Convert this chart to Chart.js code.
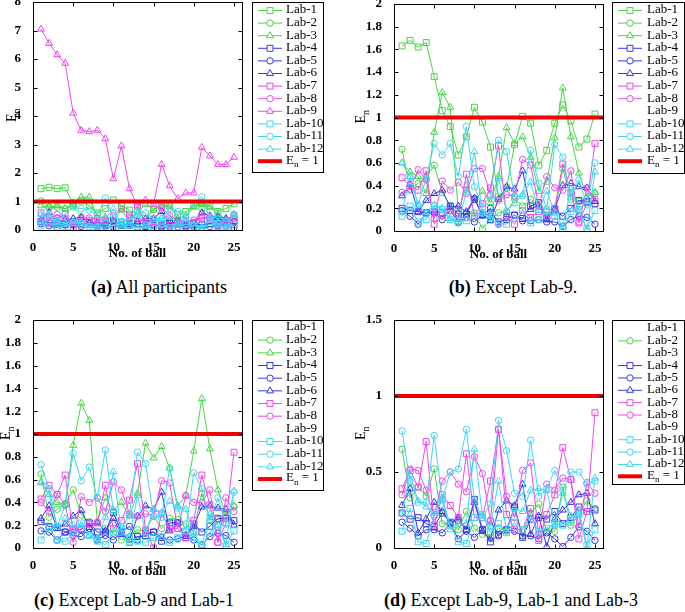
<!DOCTYPE html>
<html>
<head>
<meta charset="utf-8">
<script src="https://cdn.jsdelivr.net/npm/chart.js@4.4.1/dist/chart.umd.min.js"></script>
<style>
  body { margin: 0; background: #fff; width: 685px; height: 612px; position: relative; overflow: hidden;
         font-family: "Liberation Serif", "Times New Roman", serif; }
  canvas { position: absolute; }
  .cap { position: absolute; font-size: 18px; white-space: nowrap; transform: translate(-50%, -50%); color: #000; }
</style>
</head>
<body>
<canvas id="pa" width="342" height="272" style="left:0;top:-10px"></canvas>
<canvas id="pb" width="340" height="272" style="left:345px;top:-10px"></canvas>
<canvas id="pc" width="342" height="280" style="left:0;top:300px"></canvas>
<canvas id="pd" width="340" height="280" style="left:345px;top:300px"></canvas>
<div class="cap" style="left:159px;top:287px"><b>(a)</b> All participants</div>
<div class="cap" style="left:513px;top:287px"><b>(b)</b> Except Lab-9.</div>
<div class="cap" style="left:134px;top:600px"><b>(c)</b> Except Lab-9 and Lab-1</div>
<div class="cap" style="left:511px;top:600px"><b>(d)</b> Except Lab-9, Lab-1 and Lab-3</div>

<script>
// ---- data ----
const balls = [1,2,3,4,5,6,7,8,9,10,11,12,13,14,15,16,17,18,19,20,21,22,23,24,25];
const xTicks = [0,5,10,15,20,25];
const labNames = ['Lab-1','Lab-2','Lab-3','Lab-4','Lab-5','Lab-6','Lab-7','Lab-8','Lab-9','Lab-10','Lab-11','Lab-12'];
const enLimit = 1;

// (a) all participants
const a_lab1  = [1.45,1.50,1.45,1.48,0.92,1.02,0.85,0.60,0.75,1.05,0.85,0.70,0.30,0.40,0.72,0.85,0.85,0.55,0.65,0.85,0.92,0.85,0.65,0.75,0.92];
const a_lab2  = [1.02,0.80,0.80,0.75,0.85,0.45,0.35,0.10,0.25,0.25,0.05,0.15,0.20,0.25,0.40,0.30,0.35,0.30,0.30,0.25,0.75,0.40,0.35,0.35,0.40];
const a_lab3  = [0.85,0.80,0.85,0.75,0.95,1.15,1.15,0.45,0.45,0.35,0.70,0.30,0.60,0.90,0.75,0.80,0.85,0.40,0.50,0.80,0.92,0.80,0.55,0.40,0.50];
const a_lab4  = [0.30,0.25,0.25,0.20,0.22,0.20,0.25,0.18,0.18,0.30,0.18,0.18,0.10,0.12,0.18,0.15,0.25,0.28,0.15,0.22,0.18,0.22,0.30,0.28,0.28];
const a_lab5  = [0.22,0.15,0.08,0.18,0.18,0.12,0.20,0.10,0.14,0.10,0.16,0.22,0.08,0.14,0.16,0.10,0.10,0.12,0.10,0.10,0.06,0.12,0.15,0.14,0.08];
const a_lab6  = [0.35,0.62,0.30,0.35,0.40,0.45,0.25,0.25,0.20,0.30,0.18,0.12,0.30,0.40,0.40,0.65,0.22,0.25,0.15,0.22,0.60,0.50,0.45,0.40,0.30];
const a_lab7  = [0.60,0.45,0.40,0.55,0.10,0.18,0.20,0.15,0.35,0.18,0.28,0.42,0.85,0.18,0.10,0.22,0.15,0.20,0.18,0.25,0.45,0.38,0.10,0.28,0.50];
const a_lab8  = [0.30,0.30,0.55,0.40,0.25,0.40,0.42,0.40,0.30,0.50,0.75,0.55,0.35,0.30,0.30,0.80,0.50,0.35,0.30,0.35,0.40,0.45,0.20,0.35,0.25];
const a_lab9  = [7.05,6.55,6.15,5.85,4.10,3.50,3.45,3.50,3.20,1.80,2.95,1.45,0.85,1.05,0.90,2.30,1.55,1.10,1.30,1.30,2.90,2.60,2.30,2.30,2.55];
const a_lab10 = [0.15,0.25,0.10,0.12,0.25,0.22,0.12,0.10,0.10,0.18,0.18,0.16,0.08,0.08,0.05,0.20,0.08,0.12,0.20,0.15,0.05,0.20,0.22,0.05,0.20];
const a_lab11 = [0.25,0.55,0.30,0.55,0.80,0.75,0.70,0.55,1.12,0.45,0.30,0.35,0.65,0.60,0.40,0.40,0.75,0.65,0.45,0.90,1.17,0.40,0.50,0.30,0.55];
const a_lab12 = [0.55,0.50,0.30,0.25,0.30,0.25,0.15,0.10,0.40,0.75,0.20,0.15,0.50,0.20,0.30,0.40,0.45,0.25,0.40,0.20,0.10,0.40,0.25,0.05,0.55];

// (b) except Lab-9
const b_lab1  = [1.63,1.68,1.62,1.66,1.36,1.06,0.92,0.67,0.83,1.09,0.96,0.74,0.30,0.38,0.76,1.01,0.95,0.58,0.71,0.95,1.11,0.97,0.74,0.81,1.03];
const b_lab2  = [0.72,0.36,0.42,0.47,0.58,0.34,0.22,0.07,0.16,0.16,0.02,0.10,0.16,0.17,0.28,0.22,0.28,0.22,0.19,0.18,0.55,0.28,0.26,0.25,0.33];
const b_lab3  = [0.60,0.52,0.48,0.33,0.87,1.22,1.09,0.17,0.40,0.27,0.35,0.25,0.48,0.91,0.77,0.83,0.65,0.35,0.43,0.82,1.26,0.83,0.51,0.30,0.34];
const b_lab4  = [0.20,0.18,0.17,0.16,0.17,0.16,0.22,0.15,0.15,0.28,0.14,0.16,0.08,0.10,0.14,0.11,0.22,0.25,0.12,0.19,0.13,0.20,0.27,0.26,0.24];
const b_lab5  = [0.18,0.13,0.06,0.16,0.16,0.10,0.18,0.08,0.12,0.08,0.14,0.20,0.06,0.12,0.14,0.09,0.09,0.10,0.08,0.08,0.04,0.10,0.13,0.12,0.06];
const b_lab6  = [0.31,0.41,0.17,0.27,0.33,0.36,0.21,0.22,0.17,0.29,0.14,0.09,0.28,0.39,0.37,0.53,0.19,0.23,0.10,0.19,0.40,0.42,0.39,0.38,0.26];
const b_lab7  = [0.47,0.40,0.36,0.53,0.06,0.14,0.18,0.11,0.50,0.13,0.24,0.38,0.75,0.13,0.06,0.18,0.12,0.17,0.13,0.20,0.59,0.34,0.07,0.25,0.77];
const b_lab8  = [0.34,0.37,0.54,0.45,0.11,0.44,0.36,0.43,0.33,0.55,0.55,0.32,0.27,0.32,0.31,0.63,0.58,0.22,0.48,0.38,0.36,0.53,0.08,0.38,0.28];
const b_lab9  = [];
const b_lab10 = [0.13,0.22,0.08,0.10,0.22,0.19,0.10,0.09,0.09,0.15,0.16,0.14,0.07,0.06,0.11,0.18,0.07,0.10,0.17,0.13,0.02,0.17,0.19,0.02,0.18];
const b_lab11 = [0.17,0.47,0.23,0.46,0.77,0.67,0.77,0.48,0.92,0.39,0.21,0.31,0.80,0.70,0.30,0.31,0.71,0.42,0.19,0.76,0.65,0.30,0.45,0.23,0.60];
const b_lab12 = [0.60,0.48,0.23,0.16,0.23,0.20,0.11,0.08,0.34,0.70,0.16,0.11,0.46,0.18,0.24,0.32,0.43,0.18,0.35,0.16,0.04,0.37,0.18,0.01,0.52];

// (c) except Lab-9 and Lab-1
const c_lab1  = [];
const c_lab2  = [0.65,0.27,0.34,0.39,0.51,0.29,0.23,0.08,0.17,0.13,0.07,0.10,0.16,0.15,0.28,0.17,0.26,0.25,0.21,0.15,0.48,0.25,0.25,0.27,0.36];
const c_lab3  = [0.58,0.47,0.40,0.38,0.90,1.27,1.12,0.23,0.44,0.33,0.40,0.28,0.48,0.92,0.79,0.89,0.70,0.37,0.46,0.85,1.31,0.87,0.51,0.28,0.37];
const c_lab4  = [0.23,0.19,0.18,0.14,0.16,0.16,0.22,0.14,0.14,0.31,0.14,0.05,0.10,0.11,0.14,0.06,0.22,0.22,0.09,0.21,0.14,0.19,0.26,0.26,0.24];
const c_lab5  = [0.15,0.14,0.07,0.14,0.11,0.10,0.17,0.07,0.11,0.07,0.14,0.19,0.07,0.13,0.14,0.09,0.07,0.08,0.11,0.07,0.03,0.10,0.13,0.11,0.05];
const c_lab6  = [0.26,0.37,0.17,0.21,0.28,0.33,0.18,0.22,0.15,0.26,0.12,0.07,0.28,0.37,0.34,0.49,0.15,0.22,0.10,0.19,0.36,0.37,0.35,0.34,0.20];
const c_lab7  = [0.43,0.55,0.47,0.64,0.14,0.17,0.21,0.22,0.55,0.17,0.24,0.42,0.74,0.16,0.00,0.30,0.17,0.17,0.09,0.24,0.64,0.38,0.05,0.22,0.84];
const c_lab8  = [0.40,0.32,0.47,0.38,0.05,0.45,0.40,0.44,0.32,0.58,0.51,0.30,0.28,0.30,0.28,0.59,0.57,0.17,0.46,0.40,0.40,0.51,0.05,0.44,0.32];
const c_lab9  = [];
const c_lab10 = [0.07,0.18,0.07,0.06,0.12,0.22,0.11,0.06,0.03,0.14,0.17,0.05,0.06,0.05,0.09,0.10,0.05,0.09,0.15,0.09,0.02,0.14,0.19,0.02,0.15];
const c_lab11 = [0.73,0.52,0.19,0.37,0.83,0.59,0.71,0.44,0.86,0.32,0.17,0.29,0.84,0.74,0.28,0.27,0.70,0.35,0.15,0.66,0.52,0.24,0.44,0.21,0.49];
const c_lab12 = [0.57,0.47,0.18,0.26,0.20,0.20,0.11,0.08,0.27,0.67,0.13,0.10,0.46,0.13,0.34,0.31,0.41,0.36,0.34,0.13,0.02,0.30,0.20,0.03,0.50];

// (d) except Lab-9, Lab-1 and Lab-3
const d_lab1  = [];
const d_lab2  = [0.65,0.33,0.40,0.34,0.52,0.16,0.16,0.12,0.24,0.13,0.09,0.07,0.13,0.11,0.26,0.08,0.23,0.29,0.11,0.11,0.40,0.15,0.22,0.31,0.26];
const d_lab3  = [];
const d_lab4  = [0.23,0.19,0.20,0.16,0.14,0.23,0.17,0.18,0.12,0.32,0.12,0.04,0.09,0.12,0.27,0.07,0.19,0.20,0.19,0.24,0.16,0.20,0.27,0.24,0.25];
const d_lab5  = [0.17,0.13,0.08,0.12,0.12,0.10,0.16,0.06,0.11,0.07,0.12,0.18,0.08,0.12,0.11,0.08,0.08,0.06,0.10,0.06,0.01,0.07,0.14,0.11,0.05];
const d_lab6  = [0.28,0.39,0.10,0.19,0.30,0.24,0.16,0.20,0.12,0.30,0.11,0.06,0.25,0.31,0.28,0.42,0.09,0.21,0.01,0.19,0.25,0.30,0.35,0.36,0.16];
const d_lab7  = [0.39,0.51,0.40,0.70,0.15,0.35,0.28,0.20,0.62,0.20,0.20,0.44,0.78,0.22,0.12,0.12,0.26,0.05,0.22,0.35,0.66,0.45,0.06,0.24,0.89];
const d_lab8  = [0.35,0.52,0.51,0.38,0.21,0.44,0.50,0.42,0.37,0.60,0.49,0.18,0.78,0.34,0.20,0.51,0.56,0.09,0.42,0.38,0.46,0.45,0.14,0.43,0.36];
const d_lab9  = [];
const d_lab10 = [0.11,0.26,0.04,0.03,0.22,0.33,0.15,0.04,0.03,0.20,0.22,0.10,0.16,0.10,0.17,0.12,0.21,0.11,0.13,0.16,0.15,0.17,0.25,0.02,0.12];
const d_lab11 = [0.77,0.44,0.30,0.30,0.74,0.32,0.50,0.52,0.78,0.31,0.20,0.29,0.84,0.64,0.36,0.34,0.71,0.34,0.39,0.51,0.38,0.50,0.50,0.42,0.44];
const d_lab12 = [0.23,0.48,0.31,0.27,0.23,0.31,0.12,0.16,0.16,0.65,0.21,0.14,0.44,0.11,0.26,0.24,0.38,0.39,0.38,0.15,0.36,0.21,0.22,0.00,0.46];

// ---- styling ----
const GREEN = 'rgb(70,215,70)', BLUE = 'rgb(55,55,235)', MAGENTA = 'rgb(240,70,240)', CYAN = 'rgb(60,215,245)';
const labColors = [GREEN,GREEN,GREEN,BLUE,BLUE,BLUE,MAGENTA,MAGENTA,MAGENTA,CYAN,CYAN,CYAN];
const labMarkers = ['rect','circle','triangle','rect','circle','triangle','rect','circle','triangle','rect','circle','triangle'];
const markerSize = { rect: 4.2, circle: 3.2, triangle: 4 };
const SERIF = '"Liberation Serif", "Times New Roman", serif';

function drawEn(ctx, x, y, size, bold) {
  // "E" with subscript "n"
  const w = bold ? 'bold ' : '';
  ctx.textBaseline = 'middle';
  ctx.textAlign = 'left';
  ctx.font = w + size + 'px ' + SERIF;
  const wE = ctx.measureText('E').width;
  ctx.fillText('E', x, y);
  ctx.font = w + Math.round(size * 0.7) + 'px ' + SERIF;
  ctx.fillText('n', x + wE, y + size * 0.35);
  return wE + ctx.measureText('n').width;
}

const matlabFrame = {
  id: 'matlabFrame',
  afterDraw(chart) {
    const { ctx, chartArea: a } = chart;
    const o = chart.options.plugins.matlabFrame;
    const xs = chart.scales.x, ys = chart.scales.y;
    const L = Math.round(a.left) + 0.5, R = Math.round(a.right) + 0.5;
    const T = Math.round(a.top) + 0.5, B = Math.round(a.bottom) + 0.5;
    ctx.save();
    ctx.strokeStyle = '#000';
    ctx.lineWidth = 1;
    ctx.strokeRect(L, T, R - L, B - T);
    ctx.beginPath();
    xs.ticks.forEach(t => {
      const p = Math.round(xs.getPixelForValue(t.value)) + 0.5;
      ctx.moveTo(p, B); ctx.lineTo(p, B - 4);
      ctx.moveTo(p, T); ctx.lineTo(p, T + 4);
    });
    ys.ticks.forEach(t => {
      const p = Math.round(ys.getPixelForValue(t.value)) + 0.5;
      ctx.moveTo(L, p); ctx.lineTo(L + 4, p);
      ctx.moveTo(R, p); ctx.lineTo(R - 4, p);
    });
    ctx.stroke();

    // axis titles
    ctx.fillStyle = '#000';
    ctx.font = 'bold 13px ' + SERIF;
    ctx.textAlign = 'center';
    ctx.textBaseline = 'middle';
    ctx.fillText('No. of ball', (a.left + a.right) / 2, a.bottom + 24);
    ctx.save();
    ctx.translate(a.left - o.yTitleOff, (a.top + a.bottom) / 2);
    ctx.rotate(-Math.PI / 2);
    drawEn(ctx, -6, 0, 14, false);
    ctx.restore();

    // legend box
    const lg = o.legend;
    ctx.fillStyle = '#fff';
    ctx.fillRect(lg.x0, lg.y0, lg.x1 - lg.x0, lg.y1 - lg.y0);
    ctx.strokeRect(Math.round(lg.x0) + 0.5, Math.round(lg.y0) + 0.5, lg.x1 - lg.x0, lg.y1 - lg.y0);
    const sets = chart.data.datasets;
    labNames.forEach((name, i) => {
      const ds = sets.find(d => d.label === name);
      const y = lg.row0 + i * lg.step;
      if (ds && ds.data.length) {
        ctx.strokeStyle = ds.borderColor;
        ctx.lineWidth = 1;
        ctx.beginPath();
        ctx.moveTo(lg.lineX0, y + 0.5); ctx.lineTo(lg.lineX1, y + 0.5);
        ctx.stroke();
        ctx.fillStyle = '#fff';
        Chart.helpers.drawPoint(ctx, { pointStyle: ds.pointStyle, radius: ds.pointRadius, rotation: 0, borderWidth: 1 },
          (lg.lineX0 + lg.lineX1) / 2, y + 0.5);
      }
      ctx.fillStyle = '#000';
      ctx.font = '13px ' + SERIF;
      ctx.textAlign = 'left';
      ctx.textBaseline = 'middle';
      ctx.fillText(name, lg.textX, y);
    });
    const yr = lg.row0 + 12 * lg.step;
    ctx.strokeStyle = 'rgb(240,0,0)';
    ctx.lineWidth = 4;
    ctx.beginPath();
    ctx.moveTo(lg.lineX0, yr); ctx.lineTo(lg.lineX1, yr);
    ctx.stroke();
    ctx.fillStyle = '#000';
    const w = drawEn(ctx, lg.textX, yr - 1, 13, false);
    ctx.font = '13px ' + SERIF;
    ctx.fillText(' = 1', lg.textX + w, yr - 1);
    ctx.restore();
  }
};

function makePanel(id, series, yMax, yStep, lay) {
  const datasets = series.map((arr, i) => ({
    label: labNames[i],
    data: arr.map((v, k) => ({ x: balls[k], y: v })),
    borderColor: labColors[i],
    backgroundColor: 'rgba(0,0,0,0)',
    pointBackgroundColor: 'rgba(0,0,0,0)',
    pointBorderColor: labColors[i],
    pointStyle: labMarkers[i],
    pointRadius: markerSize[labMarkers[i]],
    pointBorderWidth: 1,
    borderWidth: 1,
    tension: 0,
    order: 13 - i
  }));
  datasets.push({
    label: 'En = 1',
    data: [{ x: 0, y: enLimit }, { x: 26, y: enLimit }],
    borderColor: 'rgb(240,0,0)',
    borderWidth: 4,
    pointRadius: 0,
    order: 0
  });
  const top = lay.canvasTop;
  return new Chart(document.getElementById(id), {
    type: 'line',
    data: { datasets },
    plugins: [matlabFrame],
    options: {
      responsive: false,
      animation: false,
      devicePixelRatio: 1,
      layout: { padding: { left: 0, top: lay.plotTop - top, right: lay.padRight, bottom: 0 } },
      plugins: {
        legend: { display: false },
        tooltip: { enabled: false },
        matlabFrame: {
          yTitleOff: lay.yTitleOff,
          legend: {
            x0: lay.lg[0], x1: lay.lg[1], y0: lay.lg[2] - top, y1: lay.lg[3] - top,
            row0: lay.lg[4] - top, step: lay.lg[5],
            lineX0: lay.lg[6], lineX1: lay.lg[7], textX: lay.lg[8]
          }
        }
      },
      scales: {
        x: {
          type: 'linear', min: 0, max: 26,
          grid: { display: false }, border: { display: false },
          ticks: { autoSkip: false, padding: 2, color: '#000', maxRotation: 0, font: { family: SERIF, size: 13, weight: 'bold' } },
          afterBuildTicks: s => { s.ticks = xTicks.map(v => ({ value: v })); },
          afterFit: s => { s.height = lay.xAxisH; }
        },
        y: {
          min: 0, max: yMax,
          grid: { display: false }, border: { display: false },
          ticks: { stepSize: yStep, padding: 4, color: '#000', font: { family: SERIF, size: 13, weight: 'bold' },
                   callback: v => String(Math.round(v * 100) / 100) },
          afterFit: s => { s.width = lay.yAxisW; }
        }
      }
    }
  });
}

makePanel('pa', [a_lab1,a_lab2,a_lab3,a_lab4,a_lab5,a_lab6,a_lab7,a_lab8,a_lab9,a_lab10,a_lab11,a_lab12], 8, 1, {
  canvasTop: -10, plotTop: 2, padRight: 100, xAxisH: 32, yAxisW: 33, yTitleOff: 21,
  lg: [252, 323, 2, 172, 10, 12.6, 258, 282, 286]
});
makePanel('pb', [b_lab1,b_lab2,b_lab3,b_lab4,b_lab5,b_lab6,b_lab7,b_lab8,b_lab9,b_lab10,b_lab11,b_lab12], 2, 0.2, {
  canvasTop: -10, plotTop: 4, padRight: 82, xAxisH: 31, yAxisW: 49, yTitleOff: 33,
  lg: [267, 339, 2, 173, 10, 12.6, 273, 297, 302]
});
makePanel('pc', [c_lab1,c_lab2,c_lab3,c_lab4,c_lab5,c_lab6,c_lab7,c_lab8,c_lab9,c_lab10,c_lab11,c_lab12], 2, 0.2, {
  canvasTop: 300, plotTop: 320, padRight: 100, xAxisH: 32, yAxisW: 33, yTitleOff: 27,
  lg: [252, 323, 320, 490, 327, 12.67, 258, 282, 286]
});
makePanel('pd', [d_lab1,d_lab2,d_lab3,d_lab4,d_lab5,d_lab6,d_lab7,d_lab8,d_lab9,d_lab10,d_lab11,d_lab12], 1.5, 0.5, {
  canvasTop: 300, plotTop: 320, padRight: 82, xAxisH: 32, yAxisW: 49, yTitleOff: 33,
  lg: [267, 339, 320, 484, 328, 12.36, 273, 297, 302]
});
</script>
</body>
</html>
